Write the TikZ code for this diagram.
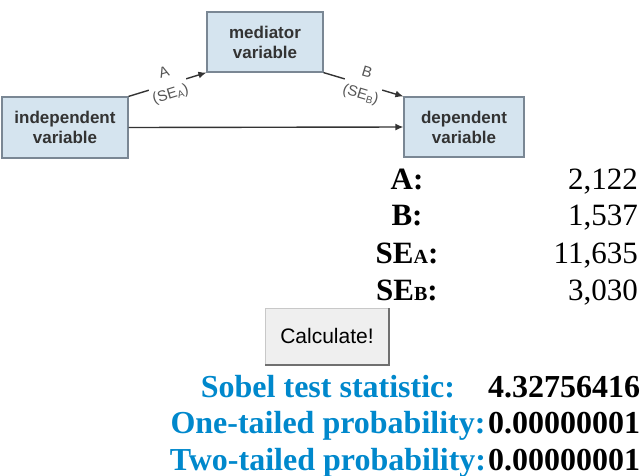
\documentclass[tikz,border=0pt]{standalone}
\usepackage{fontspec}
\setmainfont{Liberation Serif}
\newfontfamily\sansf{Liberation Sans}
\usetikzlibrary{arrows.meta}
\definecolor{boxfill}{HTML}{D5E4EF}
\definecolor{boxline}{HTML}{7A8794}
\definecolor{boxtext}{HTML}{333333}
\definecolor{labtext}{HTML}{555555}
\definecolor{sobelblue}{HTML}{0088CC}
\definecolor{btnfill}{HTML}{EFEFEF}
\definecolor{btnlight}{HTML}{C8C8C8}
\definecolor{btndark}{HTML}{707070}
\tikzset{
  varbox/.style={draw=boxline, line width=1.2pt, fill=boxfill, align=center,
    text=boxtext, font=\sansf\bfseries\fontsize{17}{20}\selectfont, inner sep=0pt},
  conn/.style={draw=boxtext, line width=1.4pt, -{Latex[length=8pt,width=7pt]}},
  pathlab/.style={fill=white, align=center, text=labtext, inner sep=1pt,
    font=\sansf\fontsize{15}{22}\selectfont, sloped},
  keytext/.style={anchor=base, inner sep=0pt, font=\bfseries\fontsize{31}{31}\selectfont},
  valtext/.style={anchor=base east, inner sep=0pt, font=\fontsize{31}{31}\selectfont},
  sobellab/.style={anchor=base, inner sep=0pt, text=sobelblue, font=\bfseries\fontsize{32}{32}\selectfont},
  sobelval/.style={anchor=base west, inner sep=0pt, font=\bfseries\fontsize{32}{32}\selectfont},
}
\newcommand{\smallsub}[1]{{\fontsize{20}{20}\selectfont #1}}
\begin{document}
\begin{tikzpicture}[x=1pt,y=-1pt]
\useasboundingbox (0,0) rectangle (641,475);
% boxes
\node[varbox, minimum width=126pt, minimum height=61pt] (ind) at (65,127.5) {independent\\variable};
\node[varbox, minimum width=116pt, minimum height=60pt] (med) at (265,42) {mediator\\variable};
\node[varbox, minimum width=120pt, minimum height=60pt] (dep) at (464,127) {dependent\\variable};
% connectors
\draw[conn] (ind.north east) -- node[pathlab] {A\\(SE\raisebox{-2pt}{\fontsize{10}{10}\selectfont A})} (med.south west);
\draw[conn] (med.south east) -- node[pathlab] {B\\(SE\raisebox{-2pt}{\fontsize{10}{10}\selectfont B})} (dep.north west);
\draw[conn] (ind.east) -- (dep.west);
% input table
\node[keytext] (ka) at (407,189) {A:};
\node[valtext] (va) at (638,189) {2,122};
\node[keytext] (kb) at (407,225) {B:};
\node[valtext] (vb) at (638,225) {1,537};
\node[keytext] (ksa) at (407,263) {SE\smallsub{A}:};
\node[valtext] (vsa) at (638,263) {11,635};
\node[keytext] (ksb) at (407,300) {SE\smallsub{B}:};
\node[valtext] (vsb) at (638,300) {3,030};
% button
\fill[btnfill] (265,308) rectangle (389,365);
\draw[btnlight, line width=1pt] (265,365) -- (265,308) -- (389,308);
\draw[btndark, line width=2pt] (265,364.5) -- (388.5,364.5) -- (388.5,308);
\node[font=\sansf\fontsize{21}{21}\selectfont] (btn) at (327,336) {Calculate!};
% results
\node[sobellab] (s1) at (328,397) {Sobel test statistic:};
\node[sobelval] (v1) at (488,397) {4.32756416};
\node[sobellab] (s2) at (328,433) {One-tailed probability:};
\node[sobelval] (v2) at (488,433) {0.00000001};
\node[sobellab] (s3) at (328,470) {Two-tailed probability:};
\node[sobelval] (v3) at (488,470) {0.00000001};
\end{tikzpicture}
\end{document}
